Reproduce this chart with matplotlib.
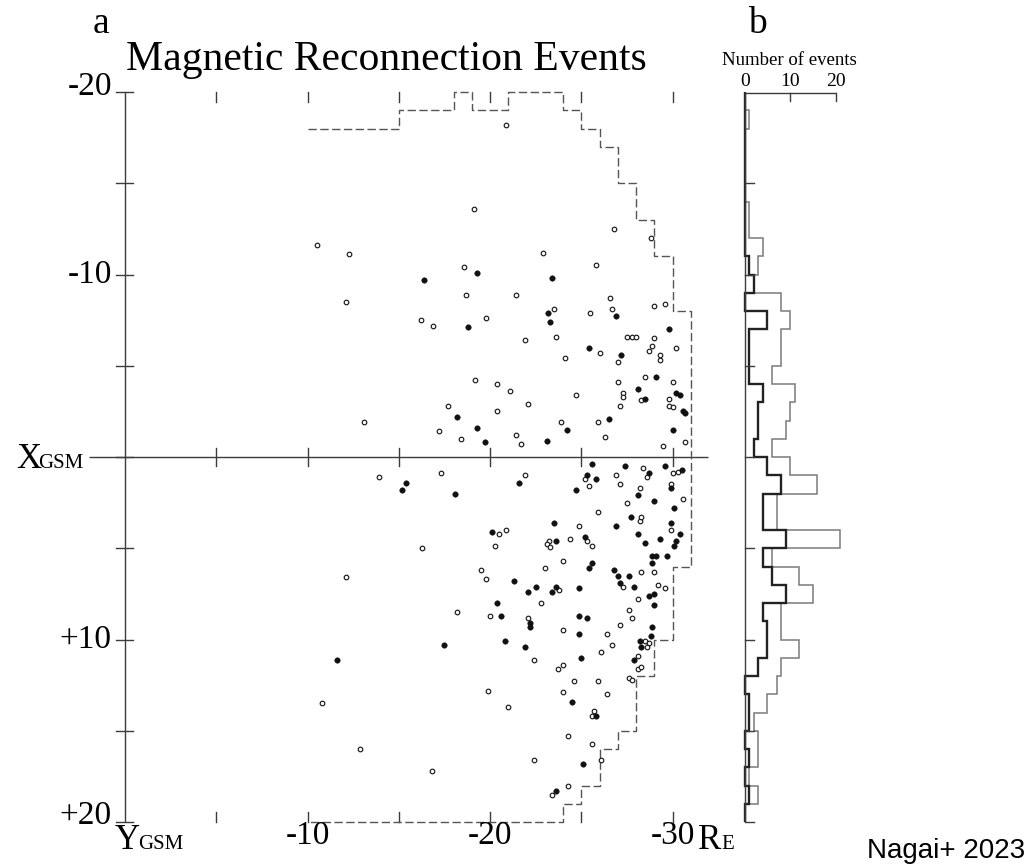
import numpy as np
import matplotlib
matplotlib.use("Agg")
import matplotlib.pyplot as plt

# ---------------------------------------------------------------
# Event positions in the GSM equatorial plane (R_E)
# Y_GSM runs horizontally (negative to the right), X_GSM vertically
# ---------------------------------------------------------------
open_y = [-20.9, -19.1, -26.8, -28.8, -10.5, -12.3, -22.9, -18.6, -25.8, -12.1,
          -18.7, -21.4, -26.6, -29.0, -29.6, -23.5, -25.5, -26.7, -16.2, -16.9,
          -19.8, -21.9, -23.6, -27.5, -27.8, -28.0, -29.0, -26.0, -28.9, -28.7,
          -30.2, -27.0, -29.3, -29.3, -24.1, -19.2, -20.4, -21.1, -28.5, -27.0,
          -30.0, -27.3, -27.3, -24.7, -28.3, -29.8, -17.7, -22.1, -27.1, -29.8,
          -30.05, -20.4, -13.1, -23.9, -25.9, -17.2, -18.4, -21.4, -21.7, -26.3,
          -29.5, -30.7, -28.4, -30.0, -30.3, -13.9, -17.3, -21.9, -25.2, -25.4,
          -26.9, -27.1, -28.6, -28.2, -27.5, -29.9, -30.6, -25.9, -28.2, -28.3,
          -29.9, -24.9, -20.5, -20.9, -16.3, -20.3, -23.22, -23.11, -23.29, -24.4,
          -25.3, -25.6, -24.0, -23.0, -12.1, -19.5, -19.8, -28.3, -29.0, -27.3,
          -29.2, -29.6, -23.8, -28.1, -22.8, -18.2, -20.0, -22.1, -27.6, -27.8,
          -27.1, -24.0, -26.4, -28.5, -28.7, -28.6, -26.7, -26.1, -28.1, -22.4,
          -23.7, -24.0, -28.1, -28.3, -24.6, -25.9, -27.6, -27.8, -10.8, -19.9,
          -21.0, -24.0, -26.4, -25.7, -25.6, -24.3, -25.6, -12.9, -22.4, -26.1,
          -16.8, -24.3, -23.4]
open_x = [-18.2, -13.6, -12.5, -12.0, -11.6, -11.1, -11.2, -10.4, -10.5, -8.5,
          -8.9, -8.9, -8.7, -8.3, -8.4, -8.1, -7.9, -8.1, -7.5, -7.2,
          -7.6, -6.4, -6.6, -6.6, -6.6, -6.6, -6.5, -5.7, -6.1, -5.8,
          -6.0, -5.2, -5.6, -5.3, -5.4, -4.2, -4.0, -3.6, -4.4, -4.1,
          -4.1, -3.5, -3.3, -3.4, -3.1, -3.2, -2.8, -2.9, -2.8, -2.8,
          -2.75, -2.5, -1.9, -1.9, -1.9, -1.4, -1.0, -1.2, -0.7, -1.1,
          -0.6, -0.8, 0.6, 0.9, 0.8, 1.1, 0.9, 1.0, 1.2, 1.6,
          1.0, 1.5, 1.1, 1.7, 2.5, 1.5, 2.3, 3.0, 3.5, 3.3,
          4.0, 3.8, 4.2, 4.0, 5.0, 4.9, 4.60, 4.77, 4.95, 4.5,
          4.6, 4.9, 5.7, 6.1, 6.6, 6.2, 6.7, 6.3, 6.3, 7.1,
          7.0, 7.2, 7.3, 7.8, 8.0, 8.5, 8.7, 8.8, 8.4, 8.8,
          9.2, 9.5, 9.7, 10.1, 10.2, 10.4, 10.3, 10.7, 10.9, 11.1,
          11.6, 11.4, 11.6, 11.5, 12.3, 12.3, 12.1, 12.2, 13.5, 12.8,
          13.7, 12.9, 13.0, 13.9, 14.2, 15.3, 15.7, 16.0, 16.6, 16.6,
          17.2, 18.0, 18.5]

filled_y = [-19.3, -16.4, -23.4, -23.2, -26.9, -18.8, -23.3, -29.8, -25.4, -27.2,
            -29.1, -28.1, -28.5, -30.2, -30.4, -30.6, -30.7, -18.2, -26.5, -19.3,
            -24.2, -30.0, -19.7, -23.1, -25.6, -27.4, -29.6, -30.5, -15.4, -15.2,
            -18.1, -21.6, -25.3, -25.8, -24.7, -28.7, -28.1, -29.0, -29.9, -30.1,
            -27.7, -26.9, -29.9, -28.1, -30.4, -28.5, -29.3, -30.2, -30.1, -29.1,
            -28.9, -29.7, -28.9, -23.5, -20.1, -23.6, -25.2, -25.6, -25.4, -26.8,
            -27.0, -27.6, -27.1, -27.9, -21.3, -22.1, -22.5, -23.6, -23.4, -24.9,
            -28.7, -29.0, -29.0, -20.4, -20.6, -22.2, -22.2, -24.9, -25.3, -28.9,
            -24.9, -28.8, -28.2, -28.3, -20.8, -17.5, -21.9, -25.0, -27.9, -11.6,
            -24.5, -25.8, -25.1, -23.6]
filled_x = [-10.1, -9.7, -9.8, -7.9, -7.7, -7.1, -7.4, -7.0, -6.0, -5.6,
            -4.4, -3.7, -3.2, -3.5, -3.4, -2.5, -2.4, -2.2, -2.1, -1.6,
            -1.5, -1.5, -0.8, -0.9, 0.4, 0.5, 0.5, 0.7, 1.4, 1.8,
            2.0, 1.4, 1.0, 1.2, 1.8, 0.9, 2.1, 2.4, 1.7, 2.8,
            3.3, 3.8, 3.6, 4.2, 4.2, 4.7, 4.5, 4.6, 4.9, 5.4,
            5.4, 5.4, 5.8, 3.6, 4.1, 4.6, 4.4, 5.8, 6.1, 6.2,
            6.5, 6.5, 6.9, 7.1, 6.8, 7.4, 7.1, 7.1, 7.4, 7.2,
            7.6, 7.5, 8.1, 8.0, 8.7, 9.1, 9.3, 8.7, 8.8, 9.3,
            9.7, 9.8, 10.1, 10.4, 10.1, 10.3, 10.4, 11.0, 11.1, 11.1,
            13.4, 14.2, 16.8, 18.3]

# Outer edge of the orbital coverage (stepped, 1 R_E cells)
boundary_y = [-10, -15, -15, -18, -18, -19, -19, -21, -21, -24, -24, -25, -25, -26,
              -26, -27, -27, -28, -28, -29, -29, -30, -30, -31, -31, -30, -30, -29,
              -29, -28, -28, -27, -27, -26, -26, -25, -25, -24, -24, -10]
boundary_x = [-18, -18, -19, -19, -20, -20, -19, -19, -20, -20, -19, -19, -18, -18,
              -17, -17, -15, -15, -13, -13, -11, -11, -8, -8, 6, 6, 10, 10,
              12, 12, 15, 15, 16, 16, 18, 18, 19, 19, 20, 20]

# Histogram of X_GSM (1 R_E bins from -20 to +20)
hist_edges = np.arange(-20, 21)
all_counts = [0, 1, 0, 0, 0, 0, 1, 1, 4, 3,
              2, 8, 10, 8, 8, 6, 11, 10, 9, 6,
              10, 16, 7, 7, 21, 6, 12, 15, 8, 8,
              12, 8, 7, 5, 2, 3, 3, 1, 3, 0]
filled_counts = [0, 0, 0, 0, 0, 0, 0, 0, 0, 1,
                 2, 0, 5, 1, 1, 1, 4, 3, 3, 2,
                 5, 8, 4, 4, 9, 4, 6, 9, 4, 5,
                 5, 3, 0, 1, 1, 0, 1, 0, 1, 0]

xgsm_ticks = [-20, -10, 10, 20]
xgsm_labels = ["-20", "-10", "+10", "+20"]
ygsm_ticks = [-10, -20, -30]
ygsm_labels = ["-10", "-20", "-30"]
count_ticks = [0, 10, 20]

# ---------------------------------------------------------------
plt.rcParams['font.family'] = ['Liberation Serif', 'DejaVu Serif']

W, H = 1032, 865
PX = 18.25          # pixels per R_E
X0, Y0 = 125, 457   # pixel position of the origin
CPX = 4.55          # pixels per event in panel b
C0 = 744.7          # pixel position of zero count

fig = plt.figure(figsize=(W / 100, H / 100), dpi=100)

ax = fig.add_axes([0, 0, 1, 1])
ax.set_xlim(X0 / PX, (X0 - W) / PX)
ax.set_ylim((H - Y0) / PX, -Y0 / PX)
ax.axis('off')

axb = fig.add_axes([0, 0, 1, 1])
axb.set_xlim(-C0 / CPX, (W - C0) / CPX)
axb.set_ylim((H - Y0) / PX, -Y0 / PX)
axb.axis('off')
axb.patch.set_visible(False)

lc = '#3c3c3c'
lw = 1.0

# --- panel a frame -------------------------------------------
ax.plot([0, 0], [-20, 20], color=lc, lw=lw, solid_capstyle='butt')
ax.plot([1.97, -31.95], [0, 0], color=lc, lw=lw, solid_capstyle='butt')
for xv in range(-20, 21, 5):
    ax.plot([0.49, -0.44], [xv, xv], color=lc, lw=lw)
for yv in range(-5, -31, -5):
    ax.plot([yv, yv], [-20, -19.45], color=lc, lw=lw)
    ax.plot([yv, yv], [19.45, 20], color=lc, lw=lw)
    ax.plot([yv, yv], [-0.5, 0.5], color=lc, lw=lw)

# coverage boundary
ax.plot(boundary_y, boundary_x, color='#555555', lw=1.0,
        ls=(0, (6, 2.5)), solid_joinstyle='miter')

# events
ax.plot(open_y, open_x, 'o', ls='none', ms=3.3, mfc='white',
        mec='#1a1a1a', mew=0.85)
ax.plot(filled_y, filled_x, 'o', ls='none', ms=4.0, mfc='#111111',
        mec='#111111', mew=0.3)

# tick labels
fs_tick = 24
for xv, lab in zip(xgsm_ticks, xgsm_labels):
    yoff = {-20: -0.3, 20: -0.35}.get(xv, 0.0)
    ax.text(0.72, xv + yoff, lab, ha='right', va='center', fontsize=fs_tick)
for yv, lab in zip(ygsm_ticks, ygsm_labels):
    ax.text(yv, 20.75, lab, ha='center', va='center', fontsize=fs_tick)

# axis names with small-caps style subscripts
ax.text(5.98, 0.6, 'X', ha='left', va='baseline', fontsize=25)
ax.text(4.78, 0.6, 'GSM', ha='left', va='baseline', fontsize=15)
ax.text(0.55, 21.5, 'Y', ha='left', va='baseline', fontsize=25)
ax.text(-0.7, 21.5, 'GSM', ha='left', va='baseline', fontsize=15)
ax.text(-31.4, 21.5, 'R', ha='left', va='baseline', fontsize=25)
ax.text(-32.7, 21.5, 'E', ha='left', va='baseline', fontsize=15)

# --- panel b -------------------------------------------------
axb.plot([0, 0], [-19.93, 20], color=lc, lw=lw, solid_capstyle='butt')
axb.plot([0, 20], [-19.93, -19.93], color=lc, lw=lw, solid_capstyle='butt')
for c in count_ticks[1:]:
    axb.plot([c, c], [-19.93, -19.5], color=lc, lw=lw)
for xv in range(-15, 21, 5):
    axb.plot([0, 2.0], [xv, xv], color=lc, lw=lw)

axb.stairs(all_counts, hist_edges, orientation='horizontal',
           color='#7a7a7a', lw=1.1)
axb.stairs(filled_counts, hist_edges, orientation='horizontal',
           color='#222222', lw=1.7)

for c in count_ticks:
    axb.text(c, -20.6, str(c), ha='center', va='center', fontsize=14)
axb.text(9.9, -21.75, 'Number of events', ha='center', va='center',
         fontsize=13.5)

# --- titles and panel letters ----------------------------------
fig.text(386 / W, 1 - 70 / H, 'Magnetic Reconnection Events',
         ha='center', va='baseline', fontsize=30)
fig.text(101 / W, 1 - 33 / H, 'a', ha='center', va='baseline', fontsize=27)
fig.text(757 / W, 1 - 33 / H, 'b', ha='center', va='baseline', fontsize=27)
fig.text(1025 / W, 1 - 858 / H, 'Nagai+ 2023', ha='right', va='baseline',
         fontsize=20, family=['Liberation Sans', 'DejaVu Sans'])

fig.savefig('out.png', dpi=100)
